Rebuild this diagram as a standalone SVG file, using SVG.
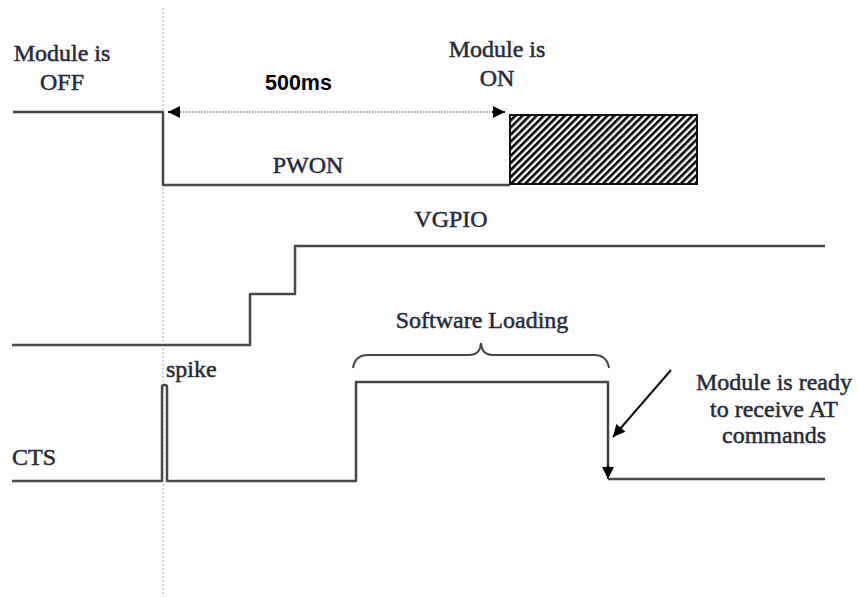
<svg xmlns="http://www.w3.org/2000/svg" width="858" height="597" viewBox="0 0 858 597">
  <style>
    .sig { fill: none; stroke: #474747; stroke-width: 2.5; stroke-linejoin: round; }
    .lbl { font-family: "Liberation Serif", "Times New Roman", serif; font-size: 24px; fill: #262a3a; stroke: #262a3a; stroke-width: 0.5; }
    .ms { font-family: "Liberation Sans", Arial, sans-serif; font-size: 21.5px; font-weight: bold; fill: #000; }
    .guide { stroke: #b8b8b8; stroke-width: 1.2; stroke-dasharray: 2 2; fill: none; }
    .dotted { stroke: #a0a0a0; stroke-width: 2; stroke-dasharray: 1.5 1.5; fill: none; }
    .arr { stroke: #111; stroke-width: 2; fill: none; }
  </style>
  <defs>
    <marker id="tri" viewBox="0 0 10 10" refX="10" refY="5" markerWidth="14" markerHeight="12" markerUnits="userSpaceOnUse" orient="auto-start-reverse">
      <path d="M0,0 L10,5 L0,10 Z" fill="#000"/>
    </marker>
    <pattern id="hatch" patternUnits="userSpaceOnUse" width="5" height="5" patternTransform="rotate(45)">
      <rect width="5" height="5" fill="#fff"/>
      <line x1="1.3" y1="0" x2="1.3" y2="5" stroke="#000" stroke-width="2.6"/>
    </pattern>
  </defs>

  <rect width="858" height="597" fill="#fff"/>

  <!-- vertical guide -->
  <line class="guide" x1="163" y1="8" x2="163" y2="597"/>

  <g id="connectors">
    <line class="dotted" x1="180" y1="112" x2="492" y2="112"/>
    <line class="arr" x1="168" y1="112" x2="180" y2="112" marker-start="url(#tri)" stroke="none"/>
    <line class="arr" x1="492" y1="112" x2="505" y2="112" marker-end="url(#tri)" stroke="none"/>
    <line class="arr" x1="671" y1="370" x2="613" y2="437" marker-end="url(#tri)"/>
  </g>

  <g id="pwon">
    <path class="sig" d="M13,112 H163 V185 H510"/>
    <rect x="510" y="115" width="187" height="69" fill="url(#hatch)" stroke="#111" stroke-width="2"/>
    <text class="lbl" x="308" y="173" text-anchor="middle">PWON</text>
  </g>

  <g id="label-off">
    <text class="lbl" x="62" y="61" text-anchor="middle">Module is</text>
    <text class="lbl" x="62" y="90" text-anchor="middle">OFF</text>
  </g>

  <g id="label-on">
    <text class="lbl" x="497" y="57" text-anchor="middle">Module is</text>
    <text class="lbl" x="497" y="86" text-anchor="middle">ON</text>
  </g>

  <g id="label-500ms">
    <text class="ms" x="265" y="90">500ms</text>
  </g>

  <g id="vgpio">
    <path class="sig" d="M12,345 H250 V294 H295 V246 H825"/>
    <text class="lbl" x="451" y="227" text-anchor="middle">VGPIO</text>
  </g>

  <g id="software-loading">
    <path fill="none" stroke="#474747" stroke-width="2" d="M353,368 Q355,355 368,355 H470 Q480,355 481,343 Q482,355 492,355 H594 Q607,355 609,368"/>
    <text class="lbl" x="482" y="328" text-anchor="middle">Software Loading</text>
  </g>

  <g id="cts">
    <path class="sig" d="M12,481 H162 V387 Q162,385 164.5,385 Q167,385 167,387 V481 H356 V382 H608 V470"/>
    <line class="arr" x1="608" y1="465" x2="608" y2="479" marker-end="url(#tri)" stroke="none"/>
    <path class="sig" d="M608,479 H825"/>
    <text class="lbl" x="12" y="465">CTS</text>
    <text class="lbl" x="166" y="377">spike</text>
  </g>

  <g id="label-ready">
    <text class="lbl" x="774" y="390" text-anchor="middle">Module is ready</text>
    <text class="lbl" x="774" y="417" text-anchor="middle">to receive AT</text>
    <text class="lbl" x="774" y="443" text-anchor="middle">commands</text>
  </g>
</svg>
